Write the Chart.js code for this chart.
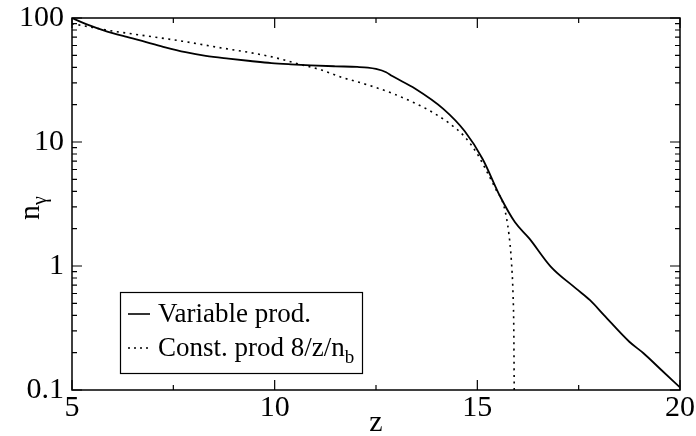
<!DOCTYPE html>
<html>
<head>
<meta charset="utf-8">
<script src="https://cdn.jsdelivr.net/npm/chart.js@4.4.1/dist/chart.umd.min.js"></script>
<style>
  html, body { margin: 0; padding: 0; background: #fff; }
  #wrap { width: 696px; height: 436px; position: relative; }
</style>
</head>
<body>
<div id="wrap"><canvas id="c" width="696" height="436"></canvas></div>
<script>
// ---- data ----
const zSolid = [5.0, 5.4, 5.78, 6.3, 6.83, 7.3, 7.8, 8.3, 8.86, 9.4, 9.92, 10.4, 10.89, 11.5, 12.04, 12.3, 12.5, 12.75, 12.9, 13.46, 14.16, 14.69, 15.13, 15.57, 15.93, 16.28, 16.81, 17.43, 17.78, 18.13, 18.75, 19.10, 19.54, 20.0];
const nSolid = [100, 88, 79.5, 71, 64, 58, 53, 49.5, 47, 45, 43.3, 42.3, 41.5, 40.8, 40.3, 39.8, 38.8, 36.5, 34, 27, 18.5, 12.2, 7.3, 3.6, 2.25, 1.67, 0.99, 0.66, 0.53, 0.40, 0.245, 0.198, 0.145, 0.105];
const zDotted = [5.0, 5.5, 5.95, 6.8, 7.72, 8.6, 9.48, 10.0, 10.54, 11.16, 11.68, 12.05, 12.5, 12.93, 13.4, 13.81, 14.3, 14.69, 15.0, 15.22, 15.45, 15.66, 15.78, 15.84, 15.88, 15.9, 15.91];
const nDotted = [90, 84, 79, 72, 65, 58, 52, 48, 43, 38, 33, 30.5, 27.5, 24.5, 21, 18, 14.2, 11, 8, 5.9, 4.2, 3.0, 1.8, 1.1, 0.6, 0.3, 0.1];
const xMajorTicks = [5, 10, 15, 20];
const xMinorTicks = [7.5, 12.5, 17.5];
const yMajorTicks = [0.1, 1, 10, 100];
const yTickLabels = ['0.1', '1', '10', '100'];
const seriesLabels = ['Variable prod.', 'Const. prod 8/z/n'];

const FONT = '"Liberation Serif", "Times New Roman", serif';

const framePlugin = {
  id: 'frame',
  afterDraw(chart) {
    const ctx = chart.ctx;
    const a = chart.chartArea;
    const xs = chart.scales.x, ys = chart.scales.y;
    ctx.save();
    ctx.strokeStyle = '#000';
    ctx.lineWidth = 1.5;
    ctx.strokeRect(a.left, a.top, a.right - a.left, a.bottom - a.top);
    ctx.lineWidth = 1.2;
    ctx.beginPath();
    const tick = (x1, y1, x2, y2) => { ctx.moveTo(x1, y1); ctx.lineTo(x2, y2); };
    xMajorTicks.forEach(v => { const p = xs.getPixelForValue(v); tick(p, a.bottom, p, a.bottom - 10); tick(p, a.top, p, a.top + 10); });
    xMinorTicks.forEach(v => { const p = xs.getPixelForValue(v); tick(p, a.bottom, p, a.bottom - 5); tick(p, a.top, p, a.top + 5); });
    yMajorTicks.forEach(v => { const p = ys.getPixelForValue(v); tick(a.left, p, a.left + 10, p); tick(a.right, p, a.right - 10, p); });
    for (let d = 0; d < 3; d++) {
      const base = yMajorTicks[d];
      for (let m = 2; m <= 9; m++) {
        const p = ys.getPixelForValue(base * m);
        tick(a.left, p, a.left + 5, p); tick(a.right, p, a.right - 5, p);
      }
    }
    ctx.stroke();

    // axis titles
    ctx.fillStyle = '#000';
    ctx.font = '30px ' + FONT;
    ctx.textAlign = 'center';
    ctx.textBaseline = 'alphabetic';
    ctx.fillText('z', (a.left + a.right) / 2, 431);
    ctx.save();
    ctx.translate(39, (a.top + a.bottom) / 2 + 4);
    ctx.rotate(-Math.PI / 2);
    ctx.textAlign = 'left';
    ctx.font = '30px ' + FONT;
    const nW = ctx.measureText('n').width;
    ctx.font = '20px ' + FONT;
    const gW = ctx.measureText('γ').width;
    const start = -(nW + gW) / 2;
    ctx.font = '30px ' + FONT;
    ctx.fillText('n', start, 0);
    ctx.font = '20px ' + FONT;
    ctx.fillText('γ', start + nW, 7);
    ctx.restore();

    // legend
    const lx = 120, ly = 292, lw = 242, lh = 81;
    ctx.fillStyle = '#fff';
    ctx.fillRect(lx, ly, lw, lh);
    ctx.lineWidth = 1.2;
    ctx.strokeStyle = '#000';
    ctx.strokeRect(lx + 0.5, ly + 0.5, lw, lh);
    const rows = [ly + 22, ly + 56];
    ctx.lineWidth = 1.6;
    ctx.beginPath(); ctx.moveTo(128, rows[0]); ctx.lineTo(150, rows[0]); ctx.stroke();
    ctx.setLineDash([2, 4]);
    ctx.beginPath(); ctx.moveTo(128, rows[1]); ctx.lineTo(152, rows[1]); ctx.stroke();
    ctx.setLineDash([]);
    ctx.fillStyle = '#000';
    ctx.textAlign = 'left';
    ctx.textBaseline = 'middle';
    ctx.font = '27px ' + FONT;
    ctx.fillText(seriesLabels[0], 158, rows[0] + 1);
    ctx.fillText(seriesLabels[1], 158, rows[1] + 1);
    const w2 = ctx.measureText(seriesLabels[1]).width;
    ctx.font = '19px ' + FONT;
    ctx.fillText('b', 158 + w2, rows[1] + 10);
    ctx.restore();
  }
};

function zeroPad(s) { s.paddingTop = 0; s.paddingBottom = 0; s.paddingLeft = 0; s.paddingRight = 0; }

new Chart(document.getElementById('c'), {
  type: 'line',
  data: {
    datasets: [
      {
        label: seriesLabels[0],
        data: zSolid.map((z, i) => ({ x: z, y: nSolid[i] })),
        borderColor: '#000', borderWidth: 1.8, pointRadius: 0,
        cubicInterpolationMode: 'monotone', fill: false
      },
      {
        label: seriesLabels[1],
        data: zDotted.map((z, i) => ({ x: z, y: nDotted[i] })),
        borderColor: '#000', borderWidth: 1.6, pointRadius: 0, borderDash: [2, 4.5],
        cubicInterpolationMode: 'monotone', fill: false
      }
    ]
  },
  plugins: [framePlugin],
  options: {
    responsive: false,
    animation: false,
    events: [],
    layout: { autoPadding: false, padding: { top: 18, right: 16, left: 0, bottom: 0 } },
    plugins: { legend: { display: false }, tooltip: { enabled: false } },
    scales: {
      x: {
        type: 'linear', min: 5, max: 20,
        grid: { display: false, drawTicks: false },
        border: { display: false },
        afterFit(s) { s.height = 46; zeroPad(s); },
        afterBuildTicks(s) { s.ticks = xMajorTicks.map(v => ({ value: v })); },
        ticks: { color: '#000', font: { family: FONT, size: 30 }, padding: 0, maxRotation: 0,
                 callback: v => String(v) }
      },
      y: {
        type: 'logarithmic', min: 0.1, max: 100,
        grid: { display: false, drawTicks: false },
        border: { display: false },
        afterFit(s) { s.width = 72; zeroPad(s); },
        afterBuildTicks(s) { s.ticks = yMajorTicks.map(v => ({ value: v })); },
        ticks: { color: '#000', font: { family: FONT, size: 30 }, padding: 8,
                 callback: v => { const i = yMajorTicks.findIndex(t => Math.abs(t - v) / t < 1e-6); return i >= 0 ? yTickLabels[i] : ''; } }
      }
    }
  }
});
</script>
</body>
</html>
